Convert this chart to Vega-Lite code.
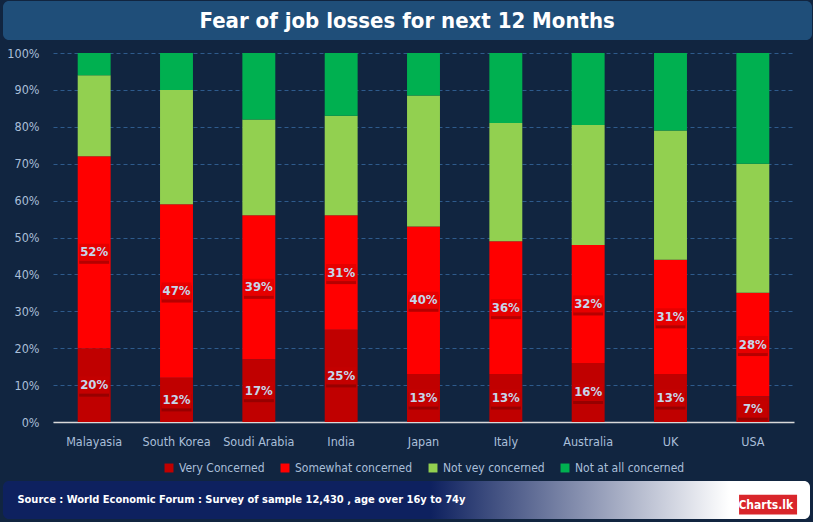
{
  "$schema": "https://vega.github.io/schema/vega-lite/v6.json",
  "background": "#112540",
  "padding": {"left": 2, "right": 2, "top": 1, "bottom": 3},
  "spacing": 7,
  "resolve": {"legend": {"color": "independent"}, "scale": {"color": "independent"}},
  "config": {
    "font": "DejaVu Sans Condensed, sans-serif",
    "view": {"stroke": null},
    "legend": {"layout": {"bottom": {"anchor": "middle"}}}
  },
  "datasets": {
    "main": [
      {"country": "Malayasia", "cat": "Very Concerned", "value": 0.20},
      {"country": "Malayasia", "cat": "Somewhat concerned", "value": 0.52},
      {"country": "Malayasia", "cat": "Not vey concerned", "value": 0.22},
      {"country": "Malayasia", "cat": "Not at all concerned", "value": 0.06},
      {"country": "South Korea", "cat": "Very Concerned", "value": 0.12},
      {"country": "South Korea", "cat": "Somewhat concerned", "value": 0.47},
      {"country": "South Korea", "cat": "Not vey concerned", "value": 0.31},
      {"country": "South Korea", "cat": "Not at all concerned", "value": 0.10},
      {"country": "Soudi Arabia", "cat": "Very Concerned", "value": 0.17},
      {"country": "Soudi Arabia", "cat": "Somewhat concerned", "value": 0.39},
      {"country": "Soudi Arabia", "cat": "Not vey concerned", "value": 0.26},
      {"country": "Soudi Arabia", "cat": "Not at all concerned", "value": 0.18},
      {"country": "India", "cat": "Very Concerned", "value": 0.25},
      {"country": "India", "cat": "Somewhat concerned", "value": 0.31},
      {"country": "India", "cat": "Not vey concerned", "value": 0.27},
      {"country": "India", "cat": "Not at all concerned", "value": 0.17},
      {"country": "Japan", "cat": "Very Concerned", "value": 0.13},
      {"country": "Japan", "cat": "Somewhat concerned", "value": 0.40},
      {"country": "Japan", "cat": "Not vey concerned", "value": 0.355},
      {"country": "Japan", "cat": "Not at all concerned", "value": 0.115},
      {"country": "Italy", "cat": "Very Concerned", "value": 0.13},
      {"country": "Italy", "cat": "Somewhat concerned", "value": 0.36},
      {"country": "Italy", "cat": "Not vey concerned", "value": 0.32},
      {"country": "Italy", "cat": "Not at all concerned", "value": 0.19},
      {"country": "Australia", "cat": "Very Concerned", "value": 0.16},
      {"country": "Australia", "cat": "Somewhat concerned", "value": 0.32},
      {"country": "Australia", "cat": "Not vey concerned", "value": 0.325},
      {"country": "Australia", "cat": "Not at all concerned", "value": 0.195},
      {"country": "UK", "cat": "Very Concerned", "value": 0.13},
      {"country": "UK", "cat": "Somewhat concerned", "value": 0.31},
      {"country": "UK", "cat": "Not vey concerned", "value": 0.35},
      {"country": "UK", "cat": "Not at all concerned", "value": 0.21},
      {"country": "USA", "cat": "Very Concerned", "value": 0.07},
      {"country": "USA", "cat": "Somewhat concerned", "value": 0.28},
      {"country": "USA", "cat": "Not vey concerned", "value": 0.35},
      {"country": "USA", "cat": "Not at all concerned", "value": 0.30}
    ]
  },
  "vconcat": [
    {
      "width": 741,
      "height": 39,
      "layer": [
        {
          "data": {"values": [{"a": 0}]},
          "mark": {"type": "rect", "cornerRadius": 6, "color": "#1f4e79"},
          "encoding": {
            "x": {"datum": -0.0675, "type": "quantitative", "scale": {"domain": [0, 1]}, "axis": null},
            "x2": {"datum": 1.0243},
            "y": {"datum": 0, "type": "quantitative", "scale": {"domain": [0, 1], "reverse": true}, "axis": null},
            "y2": {"datum": 1}
          }
        },
        {
          "data": {"values": [{"t": "Fear of job losses for next 12 Months"}]},
          "mark": {"type": "text", "color": "#ffffff", "fontSize": 22, "fontWeight": "bold", "baseline": "middle"},
          "encoding": {
            "x": {"datum": 0.478, "type": "quantitative"},
            "y": {"datum": 0.5, "type": "quantitative"},
            "text": {"field": "t"}
          }
        }
      ]
    },
    {
      "width": 741,
      "height": 369,
      "data": {"name": "main"},
      "transform": [
        {"calculate": "indexof(['Very Concerned','Somewhat concerned','Not vey concerned','Not at all concerned'], datum.cat)", "as": "k"},
        {"stack": "value", "groupby": ["country"], "sort": [{"field": "k", "order": "ascending"}], "as": ["v0", "v1"]},
        {"calculate": "(datum.v0 + datum.v1) / 2", "as": "mid"}
      ],
      "encoding": {
        "x": {
          "field": "country", "type": "nominal", "sort": null,
          "scale": {"paddingInner": 0.6, "paddingOuter": 0.3},
          "axis": {"title": null, "labelAngle": 0, "labelColor": "#a9bfd9", "labelFontSize": 12.5, "labelPadding": 13, "ticks": false, "domainColor": "#d9d9d9", "domainWidth": 1.5, "grid": false}
        }
      },
      "layer": [
        {
          "mark": {"type": "bar"},
          "encoding": {
            "y": {
              "field": "v0", "type": "quantitative", "scale": {"domain": [0, 1]},
              "axis": {"title": null, "format": ".0%", "values": [0, 0.1, 0.2, 0.3, 0.4, 0.5, 0.6, 0.7, 0.8, 0.9, 1], "tickCount": 12, "labelOverlap": false, "labelColor": "#a9bfd9", "labelFontSize": 12.5, "labelPadding": 14, "grid": true, "gridColor": "#2e5b8c", "gridDash": [4, 3], "domain": false, "ticks": false}
            },
            "y2": {"field": "v1"},
            "color": {
              "field": "cat", "type": "nominal",
              "scale": {"domain": ["Very Concerned", "Somewhat concerned", "Not vey concerned", "Not at all concerned"], "range": ["#c00000", "#ff0000", "#92d050", "#00b050"]},
              "legend": {"orient": "bottom", "direction": "horizontal", "title": null, "symbolType": "square", "symbolSize": 80, "symbolStrokeWidth": 0, "labelColor": "#a9bfd9", "labelFontSize": 12, "columnPadding": 14, "offset": 14}
            }
          }
        },
        {
          "transform": [{"filter": "datum.k < 2"}],
          "mark": {"type": "point", "shape": "M-1,-0.57L1,-0.57L1,0.57L-1,0.57Z", "filled": true, "size": 900, "color": "#6e0000", "opacity": 0.5, "yOffset": 3},
          "encoding": {"y": {"field": "mid", "type": "quantitative"}}
        },
        {
          "transform": [{"filter": "datum.k < 2"}],
          "mark": {"type": "point", "shape": "M-1,-0.57L1,-0.57L1,0.57L-1,0.57Z", "filled": true, "size": 900, "opacity": 1, "strokeWidth": 0},
          "encoding": {
            "y": {"field": "mid", "type": "quantitative"},
            "fill": {"condition": {"test": "datum.k == 0", "value": "#c40000"}, "value": "#e60000"}
          }
        },
        {
          "transform": [{"filter": "datum.k < 2"}],
          "mark": {"type": "text", "color": "#c6d6ea", "fontSize": 13, "fontWeight": "bold"},
          "encoding": {
            "y": {"field": "mid", "type": "quantitative"},
            "text": {"field": "value", "type": "quantitative", "format": ".0%"}
          }
        }
      ]
    },
    {
      "width": 741,
      "height": 38,
      "layer": [
        {
          "data": {"values": [{"a": 0}]},
          "mark": {"type": "rect", "cornerRadius": 6, "fill": {"gradient": "linear", "x1": 0, "y1": 0, "x2": 1, "y2": 0, "stops": [{"offset": 0, "color": "#0e215f"}, {"offset": 0.53, "color": "#0e215f"}, {"offset": 0.9, "color": "#ffffff"}, {"offset": 1, "color": "#ffffff"}]}},
          "encoding": {
            "x": {"datum": -0.0675, "type": "quantitative", "scale": {"domain": [0, 1]}, "axis": null},
            "x2": {"datum": 1.0216},
            "y": {"datum": 0, "type": "quantitative", "scale": {"domain": [0, 1], "reverse": true}, "axis": null},
            "y2": {"datum": 1}
          }
        },
        {
          "data": {"values": [{"s": "Source : World Economic Forum : Survey of sample 12,430 , age over 16y to 74y"}]},
          "mark": {"type": "text", "align": "left", "baseline": "middle", "color": "#ffffff", "fontSize": 11, "fontWeight": "bold"},
          "encoding": {
            "x": {"datum": -0.048, "type": "quantitative"},
            "y": {"datum": 0.5, "type": "quantitative"},
            "text": {"field": "s"}
          }
        },
        {
          "data": {"values": [{"s": "Charts.lk"}]},
          "mark": {"type": "point", "shape": "M-1,-0.34L1,-0.34L1,0.34L-1,0.34Z", "filled": true, "size": 3364, "color": "#d9262b", "opacity": 1},
          "encoding": {
            "x": {"datum": 0.965, "type": "quantitative"},
            "y": {"datum": 0.62, "type": "quantitative"}
          }
        },
        {
          "data": {"values": [{"s": "Charts.lk"}]},
          "mark": {"type": "text", "baseline": "middle", "color": "#ffffff", "fontSize": 12, "fontWeight": "bold"},
          "encoding": {
            "x": {"datum": 0.962, "type": "quantitative"},
            "y": {"datum": 0.62, "type": "quantitative"},
            "text": {"field": "s"}
          }
        }
      ]
    }
  ]
}
